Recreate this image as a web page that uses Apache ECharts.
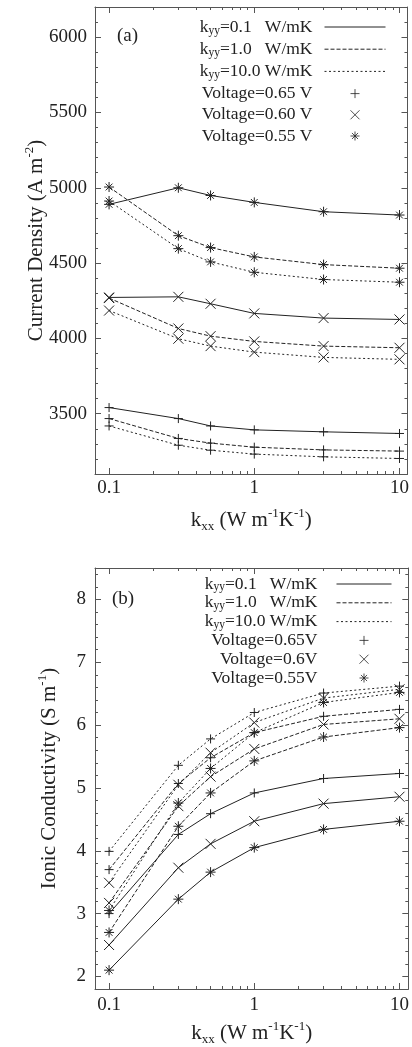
<!DOCTYPE html>
<html>
<head>
<meta charset="utf-8">
<title>k_xx effect</title>
<style>
  html, body { margin: 0; padding: 0; background: #fff; }
  #main { width: 412px; height: 1047px; }
</style>
<script src="https://cdn.jsdelivr.net/npm/echarts@6/dist/echarts.min.js"></script>
</head>
<body>
<div id="main"></div>
<script>
// x轴: k_xx (W m-1 K-1)
var kxx = [0.1, 0.3, 0.5, 1, 3, 10];

// (a) 电流密度 A m-2
var curK01V65 = [3541, 3468, 3419, 3393, 3380, 3369];
var curK01V60 = [4272, 4276, 4230, 4166, 4135, 4126];
var curK01V55 = [4890, 5000, 4949, 4903, 4841, 4819];
var curK1V65 = [3468, 3336, 3305, 3278, 3260, 3252];
var curK1V60 = [4268, 4066, 4015, 3980, 3949, 3938];
var curK1V55 = [5005, 4682, 4603, 4541, 4490, 4466];
var curK10V65 = [3419, 3291, 3258, 3232, 3214, 3203];
var curK10V60 = [4185, 3998, 3949, 3909, 3874, 3861];
var curK10V55 = [4912, 4596, 4508, 4439, 4391, 4373];

// (b) 离子电导率 S m-1
var ionK01V65 = [3.00, 4.26, 4.59, 4.92, 5.15, 5.23];
var ionK01V60 = [2.50, 3.73, 4.11, 4.47, 4.75, 4.86];
var ionK01V55 = [2.10, 3.23, 3.66, 4.05, 4.34, 4.47];
var ionK1V65 = [3.70, 5.07, 5.48, 5.88, 6.14, 6.25];
var ionK1V60 = [3.17, 4.71, 5.18, 5.62, 6.01, 6.10];
var ionK1V55 = [2.70, 4.39, 4.92, 5.43, 5.81, 5.96];
var ionK10V65 = [3.99, 5.36, 5.78, 6.20, 6.51, 6.62];
var ionK10V60 = [3.49, 5.05, 5.56, 6.04, 6.43, 6.57];
var ionK10V55 = [3.05, 4.76, 5.31, 5.88, 6.36, 6.52];

// 刻度
var yTicksA = [3500, 4000, 4500, 5000, 5500, 6000];
var yTicksB = [2, 3, 4, 5, 6, 7, 8];
var xMinorTicks = [0.2, 0.3, 0.4, 0.5, 0.6, 0.7, 0.8, 0.9, 2, 3, 4, 5, 6, 7, 8, 9];

// 图例
var legendKeys = ['k01', 'k1', 'k10', 'v65', 'v60', 'v55'];
var legendTextA = ['{m|k}{s|yy}{m|=0.1   W/mK}', '{m|k}{s|yy}{m|=1.0   W/mK}', '{m|k}{s|yy}{m|=10.0 W/mK}',
  '{m|Voltage=0.65 V}', '{m|Voltage=0.60 V}', '{m|Voltage=0.55 V}'];
var legendTextB = ['{m|k}{s|yy}{m|=0.1   W/mK}', '{m|k}{s|yy}{m|=1.0   W/mK}', '{m|k}{s|yy}{m|=10.0 W/mK}',
  '{m|Voltage=0.65V}', '{m|Voltage=0.6V}', '{m|Voltage=0.55V}'];

var FONT = 'Liberation Serif';
var INK = '#222';
var FRAME = '#555';
var symbols = {
  v65: 'path://M0,5L10,5M5,0L5,10',
  v60: 'path://M0,0L10,10M10,0L0,10',
  v55: 'path://M0,5L10,5M5,0L5,10M1.6,1.6L8.4,8.4M8.4,1.6L1.6,8.4'
};
var symbolSizes = {v65: 9, v60: 10, v55: 10};
var dashes = {k01: 'solid', k1: [4, 2], k10: [2, 2.5]};

var chart = echarts.init(document.getElementById('main'));

//一条曲线
function makeLine(values, kKey, vKey, idx) {
  return {
    type: 'line',
    xAxisIndex: idx,
    yAxisIndex: idx,
    data: kxx.map(function (x, i) {
      return [x, values[i]];
    }),
    symbol: symbols[vKey],
    symbolSize: symbolSizes[vKey],
    showAllSymbol: true,
    clip: false,
    lineStyle: {color: INK, width: 1, type: dashes[kKey]},
    itemStyle: {color: 'none', borderColor: INK, borderWidth: 1},
    emphasis: {disabled: true},
    z: 3
  };
}

//图例用的空系列
function legendSeries(prefix, idx) {
  return legendKeys.map(function (key) {
    if (key.charAt(0) == 'k') {
      return {
        type: 'line', name: prefix + key, data: [], xAxisIndex: idx, yAxisIndex: idx,
        symbol: 'none', lineStyle: {color: INK, width: 1, type: dashes[key]},
        itemStyle: {color: 'none', borderColor: 'none', borderWidth: 0}
      };
    }
    return {
      type: 'scatter', name: prefix + key, data: [], xAxisIndex: idx, yAxisIndex: idx,
      symbol: symbols[key], itemStyle: {color: 'none', borderColor: INK, borderWidth: 1}
    };
  });
}

var supRich = {
  t: {fontFamily: FONT, fontSize: 21, color: INK, lineHeight: 26},
  p: {fontFamily: FONT, fontSize: 13, color: INK, lineHeight: 13, verticalAlign: 'top'},
  b: {fontFamily: FONT, fontSize: 13, color: INK, lineHeight: 13, verticalAlign: 'bottom'}
};
var xName = '{t|k}{b|xx}{t| (W m}{p|-1}{t|K}{p|-1}{t|)}';

//x轴: 下方主/次刻度, 上方主/次刻度
//次刻度轴用 logBase 1.2: 位置与底数无关, 但 customValues 会按对数范围过滤, 小底数才能留下 2..9
function xAxes(gridIdx, xMax, nameGap, labelMargin) {
  var base = {type: 'log', logBase: 10, min: 0.08, max: xMax, gridIndex: gridIdx, splitLine: {show: false}};
  var minor = {
    axisLine: {show: false}, axisLabel: {show: false}, logBase: 1.2,
    axisTick: {inside: true, length: 3, customValues: xMinorTicks, lineStyle: {color: FRAME}}
  };
  return [
    Object.assign({}, base, {
      position: 'bottom',
      axisLine: {show: true, lineStyle: {color: FRAME, width: 1}},
      axisTick: {inside: true, length: 6, lineStyle: {color: FRAME}},
      axisLabel: {
        margin: labelMargin, fontFamily: FONT, fontSize: 19, color: INK,
        showMinLabel: false, showMaxLabel: false,
        formatter: function (v) {
          return String(+v.toPrecision(2));
        }
      },
      name: xName, nameLocation: 'middle', nameGap: nameGap, nameMoveOverlap: false,
      nameTextStyle: {rich: supRich}
    }),
    Object.assign({}, base, minor, {position: 'bottom'}),
    Object.assign({}, base, {
      position: 'top', axisLine: {show: true, lineStyle: {color: FRAME, width: 1}},
      axisLabel: {show: false}, axisTick: {inside: true, length: 6, lineStyle: {color: FRAME}}
    }),
    Object.assign({}, base, minor, {position: 'top'})
  ];
}

//y轴: 左侧主/次刻度, 右侧主/次刻度
function yAxes(gridIdx, yMin, yMax, majors, minorStep, name, nameGap, labelMargin) {
  var base = {type: 'value', min: yMin, max: yMax, gridIndex: gridIdx, splitLine: {show: false}};
  return [
    Object.assign({}, base, {
      position: 'left',
      axisLine: {show: true, lineStyle: {color: FRAME, width: 1}},
      axisTick: {inside: true, length: 6, customValues: majors, lineStyle: {color: FRAME}},
      axisLabel: {
        margin: labelMargin, fontFamily: FONT, fontSize: 19, color: INK, customValues: majors,
        formatter: function (v) {
          return String(v);
        }
      },
      name: name, nameLocation: 'middle', nameGap: nameGap, nameMoveOverlap: false,
      nameTextStyle: {rich: supRich}
    }),
    Object.assign({}, base, {
      position: 'left', interval: minorStep, axisLine: {show: false}, axisLabel: {show: false},
      axisTick: {inside: true, length: 3, lineStyle: {color: FRAME}}
    }),
    Object.assign({}, base, {
      position: 'right', axisLine: {show: true, lineStyle: {color: FRAME, width: 1}},
      axisLabel: {show: false},
      axisTick: {inside: true, length: 6, customValues: majors, lineStyle: {color: FRAME}}
    }),
    Object.assign({}, base, {
      position: 'right', interval: minorStep, axisLine: {show: false}, axisLabel: {show: false},
      axisTick: {inside: true, length: 3, lineStyle: {color: FRAME}}
    })
  ];
}

function legendFor(prefix, texts, right, top, itemWidth, gap, lineH, textPad) {
  var map = {};
  legendKeys.forEach(function (key, i) {
    map[prefix + key] = texts[i];
  });
  return {
    orient: 'vertical', align: 'right', right: right, top: top, padding: 0,
    itemWidth: itemWidth, itemHeight: 9, itemGap: gap, selectedMode: false,
    data: legendKeys.map(function (key) {
      if (key.charAt(0) == 'k') {
        return {
          name: prefix + key,
          lineStyle: {color: INK, width: 1, type: dashes[key]},
          itemStyle: {color: 'none', borderColor: 'none', borderWidth: 0}
        };
      }
      return {name: prefix + key, itemStyle: {color: 'none', borderColor: INK, borderWidth: 1}};
    }),
    formatter: function (name) {
      return map[name];
    },
    textStyle: {
      padding: [0, textPad, 0, 0],
      rich: {
        m: {fontFamily: FONT, fontSize: 17.5, color: INK, lineHeight: lineH},
        s: {fontFamily: FONT, fontSize: 11.5, color: INK, lineHeight: 11, verticalAlign: 'bottom'}
      }
    }
  };
}

var series = [
  makeLine(curK01V65, 'k01', 'v65', 0), makeLine(curK01V60, 'k01', 'v60', 0), makeLine(curK01V55, 'k01', 'v55', 0),
  makeLine(curK1V65, 'k1', 'v65', 0), makeLine(curK1V60, 'k1', 'v60', 0), makeLine(curK1V55, 'k1', 'v55', 0),
  makeLine(curK10V65, 'k10', 'v65', 0), makeLine(curK10V60, 'k10', 'v60', 0), makeLine(curK10V55, 'k10', 'v55', 0),
  makeLine(ionK01V65, 'k01', 'v65', 4), makeLine(ionK01V60, 'k01', 'v60', 4), makeLine(ionK01V55, 'k01', 'v55', 4),
  makeLine(ionK1V65, 'k1', 'v65', 4), makeLine(ionK1V60, 'k1', 'v60', 4), makeLine(ionK1V55, 'k1', 'v55', 4),
  makeLine(ionK10V65, 'k10', 'v65', 4), makeLine(ionK10V60, 'k10', 'v60', 4), makeLine(ionK10V55, 'k10', 'v55', 4)
].concat(legendSeries('a_', 0), legendSeries('b_', 4));

var option = {
  animation: false,
  grid: [
    {left: 95, top: 7, width: 313, height: 467},
    {left: 95, top: 568, width: 316, height: 421}
  ],
  xAxis: xAxes(0, 11.35, 33, 5).concat(xAxes(1, 11.5, 31, 7)),
  yAxis: yAxes(0, 3100, 6200, yTicksA, 100, '{t|Current Density (A m}{p|-2}{t|)}', 46, 8)
    .concat(yAxes(1, 1.8, 8.5, yTicksB, 0.2, '{t|Ionic Conductivity (S m}{p|-1}{t|)}', 33, 9)),
  legend: [
    legendFor('a_', legendTextA, 26, 18, 61, 3.2, 20, 7),
    legendFor('b_', legendTextB, 20, 575, 55, 0.8, 18, 14)
  ],
  graphic: [
    {type: 'text', left: 117, top: 27, style: {text: '(a)', font: '19px "Liberation Serif"', fill: INK}},
    {type: 'text', left: 112, top: 590, style: {text: '(b)', font: '19px "Liberation Serif"', fill: INK}}
  ],
  series: series
};
chart.setOption(option);
</script>
</body>
</html>
